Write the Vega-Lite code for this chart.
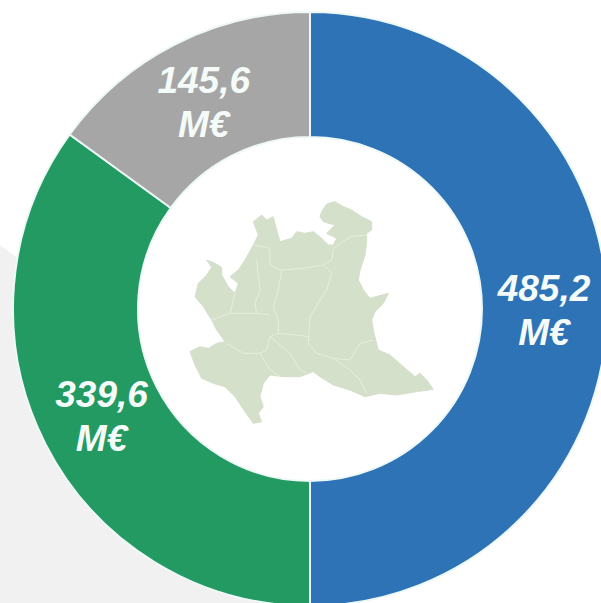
{"$schema":"https://vega.github.io/schema/vega-lite/v6.json","width":601,"height":603,"padding":0,"autosize":{"type":"none"},"background":"#ffffff","config":{"view":{"stroke":null}},
"datasets":{"shares":[{"order":1,"categoria":"Blu","valore":485.2,"etichetta":"485,2\nM€"},{"order":2,"categoria":"Verde","valore":339.6,"etichetta":"339,6\nM€"},{"order":3,"categoria":"Grigio","valore":145.6,"etichetta":"145,6\nM€"}]},
"layer":[
{"data":{"values":[{"type":"Feature","properties":{"nome":"sfondo"},"geometry":{"type":"Polygon","coordinates":[[[-510,195],[-390,285],[-210,450],[-120,660],[90,900],[390,1080],[390,1269],[-510,1269],[-510,195]]]}}]},
"projection":{"type":"identity","scale":0.33333,"translate":[170,180]},
"mark":{"type":"geoshape","fill":"#f1f1f1","stroke":null},"encoding":{}},
{"data":{"name":"shares"},"mark":{"type":"arc","radius":297,"radius2":172,"stroke":"#eef9f7","strokeWidth":2},
"encoding":{"theta":{"field":"valore","type":"quantitative","stack":true},"order":{"field":"order"},
"color":{"field":"categoria","type":"nominal","legend":null,"sort":null,"scale":{"domain":["Blu","Verde","Grigio"],"range":["#2e73b6","#229a62","#a6a6a6"]}},
"x":{"datum":0,"type":"quantitative","scale":{"domain":[-310,291],"range":[0,601]},"axis":null},
"y":{"datum":0,"type":"quantitative","scale":{"domain":[-294,309],"range":[603,0]},"axis":null}}},
{"data":{"values":[{"type":"Feature","properties":{"nome":"Lombardia"},"geometry":{"type":"Polygon","coordinates":[[[455,95],[470,72],[495,65],[520,80],[545,90],[575,110],[605,125],[605,150],[590,160],[590,185],[585,225],[570,270],[565,300],[580,330],[600,355],[655,340],[640,370],[615,395],[605,420],[612,460],[625,510],[660,525],[700,560],[735,590],[750,580],[770,600],[790,628],[740,635],[680,645],[630,640],[585,650],[540,630],[490,615],[450,590],[430,575],[390,590],[340,590],[300,585],[280,610],[270,650],[280,680],[265,700],[275,725],[250,730],[225,695],[195,650],[165,620],[130,610],[95,595],[75,555],[60,515],[90,500],[115,505],[140,490],[165,485],[140,450],[125,420],[100,380],[75,350],[85,310],[110,285],[125,262],[110,240],[135,250],[155,262],[155,285],[175,320],[195,340],[205,310],[180,290],[205,270],[225,240],[250,195],[265,165],[250,125],[275,105],[290,120],[310,110],[320,150],[330,185],[365,175],[380,155],[405,160],[430,155],[455,175],[475,195],[490,195],[500,175],[470,160],[495,135],[460,125],[450,110],[455,95]]]}}]},
"projection":{"type":"identity","scale":0.33333,"translate":[170,180]},
"mark":{"type":"geoshape","fill":"#d5e0cb","stroke":"#d5e0cb","strokeWidth":1},"encoding":{}},
{"data":{"values":[{"type":"Feature","properties":{"nome":"confini"},"geometry":{"type":"MultiLineString","coordinates":[[[250,195],[300,205],[300,255],[320,265],[335,270],[400,265],[460,255],[485,240],[490,205],[540,170],[590,165]],[[260,240],[265,290],[270,330],[255,370],[260,400],[300,405]],[[335,270],[325,330],[310,380],[325,420],[325,460],[300,470],[290,510],[270,520],[220,520],[170,490]],[[460,255],[485,280],[470,330],[450,360],[420,410],[415,490],[440,520],[490,535],[540,540],[570,490],[610,480]],[[325,460],[380,465],[415,470]],[[300,470],[360,520],[390,570],[410,580]],[[270,520],[300,570],[330,590]],[[490,535],[540,570],[570,600],[590,640]],[[125,420],[180,400],[260,400]],[[180,400],[195,340]]]}}]},
"projection":{"type":"identity","scale":0.33333,"translate":[170,180]},
"mark":{"type":"geoshape","filled":false,"stroke":"#e6eede","strokeWidth":1},"encoding":{}},
{"data":{"name":"shares"},"mark":{"type":"text","radius":234,"dy":-19,"font":"Liberation Sans","fontWeight":"bold","fontStyle":"italic","fontSize":37,"lineHeight":44,"lineBreak":"\n","align":"center","baseline":"middle","fill":"#f4fbf8"},
"encoding":{"theta":{"field":"valore","type":"quantitative","stack":true},"order":{"field":"order"},"text":{"field":"etichetta"},
"x":{"datum":0,"type":"quantitative","scale":{"domain":[-310,291],"range":[0,601]},"axis":null},
"y":{"datum":0,"type":"quantitative","scale":{"domain":[-294,309],"range":[603,0]},"axis":null}}}
],"resolve":{"scale":{"x":"shared","y":"shared"}}}
